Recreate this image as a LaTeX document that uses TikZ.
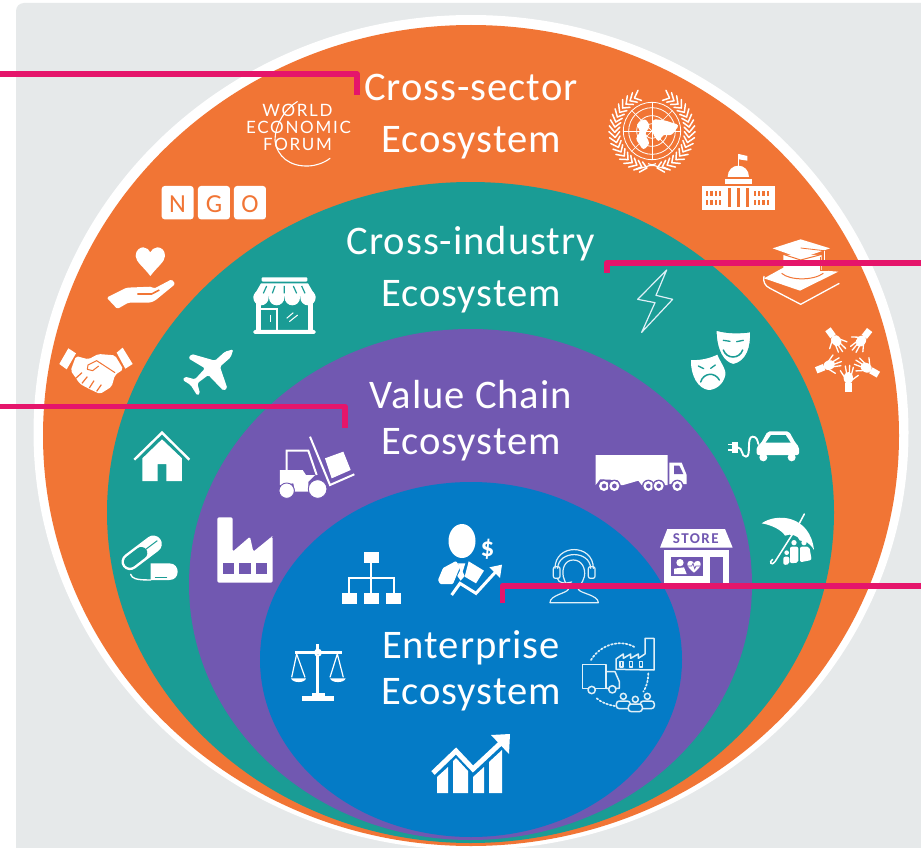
\documentclass[tikz,border=0pt]{standalone}
\usepackage{fontspec}
\setmainfont{Carlito}
\newfontfamily\lsfont[LetterSpace=2.4]{Carlito}
\newfontfamily\storefont[LetterSpace=10]{Carlito}
\newfontfamily\weffont[LetterSpace=10]{Lato}
\definecolor{panelc}{HTML}{E6E9EA}
\definecolor{orangec}{HTML}{F17535}
\definecolor{tealc}{HTML}{1A9C95}
\definecolor{purplec}{HTML}{7158B1}
\definecolor{bluec}{HTML}{047BC6}
\definecolor{leaderc}{HTML}{E5156B}
\definecolor{softw}{HTML}{E0F0F8}
\tikzset{
  zA/.style={x=0.33333pt,y=-0.33333pt},
  zB/.style={x=0.33333pt,y=-0.33333pt,xshift=460pt},
  zC/.style={x=0.33333pt,y=-0.33333pt,yshift=-420pt},
  zD/.style={x=0.33333pt,y=-0.33333pt,xshift=460pt,yshift=-420pt},
  title/.style={text=white,anchor=base,inner sep=0pt,font=\fontsize{40.6}{41}\lsfont},
  leader/.style={draw=leaderc,line width=5.6pt,line join=round},
  wline/.style={draw=white,line width=1.6pt,line join=round},
  thinw/.style={draw=white,line width=1.1pt,line join=round,line cap=round},
  softl/.style={draw=softw,line width=1.2pt,line join=round,line cap=round},
}
\begin{document}
\begin{tikzpicture}[x=1pt,y=-1pt]
\useasboundingbox (0,0) rectangle (921,848);
\fill[white] (0,0) rectangle (921,848);
\fill[panelc,rounded corners=8pt] (16,3) rectangle (940,870);
\clip (0,0) rectangle (921,848);
% rings
\fill[white] (471,432.5) ellipse [x radius=437.5,y radius=417.5];
\fill[orangec] (471,435.5) ellipse [x radius=428,y radius=410.5];
\fill[tealc] (470.5,512.5) ellipse [x radius=363.5,y radius=330.5];
\fill[purplec] (470.5,584.5) ellipse [x radius=281.5,y radius=255.5];
\fill[bluec] (471,659.5) ellipse [x radius=211,y radius=177.5];
% titles
\node[title] (t1a) at (471,101) {Cross-sector};
\node[title] (t1b) at (471,153) {Ecosystem};
\node[title] (t2a) at (471,254) {Cross-industry};
\node[title] (t2b) at (471,306) {Ecosystem};
\node[title] (t3a) at (471,408) {Value Chain};
\node[title] (t3b) at (471,454) {Ecosystem};
\node[title] (t4a) at (471,658) {Enterprise};
\node[title] (t4b) at (471,704) {Ecosystem};
% WEF
\node[text=white,inner sep=0pt,font=\fontsize{17}{17}\weffont] (wef1) at (297.5,110.5) {WORLD};
\node[text=white,inner sep=0pt,font=\fontsize{17}{17}\weffont] (wef2) at (298.5,127) {ECONOMIC};
\node[text=white,inner sep=0pt,font=\fontsize{17}{17}\weffont] (wef3) at (297.5,144) {FORUM};
\begin{scope}[zA]
\draw[thinw] (892,305) .. controls (850,330) and (825,380) .. (825,420) .. controls (830,470) and (870,500) .. (925,498) .. controls (950,497) and (975,487) .. (990,475);
% NGO tiles
\foreach \xa/\xb in {485/581,594/690,702/798}
  \fill[white,rounded corners=3pt] (\xa,558) rectangle (\xb,658);
% heart and hand
\fill[white] (451,828) .. controls (430,800) and (407,785) .. (407,768) .. controls (407,750) and (420,742) .. (430,742) .. controls (440,742) and (448,750) .. (451,757) .. controls (454,750) and (462,742) .. (472,742) .. controls (484,742) and (495,750) .. (495,768) .. controls (495,785) and (472,800) .. (451,828) -- cycle;
\fill[white,rounded corners=1.5pt] (320,893) -- (380,863) -- (455,860) -- (462,866) -- (515,838) -- (526,852) -- (465,902) -- (450,908) -- (385,908) -- (352,927) -- cycle;
\draw[orangec,line width=1.6pt] (412,882) -- (455,882) -- (478,870);
% handshake
\fill[white] (205,1045) -- (228,1060) -- (200,1108) -- (178,1092) -- cycle;
\fill[white] (368,1043) -- (398,1092) -- (376,1106) -- (350,1058) -- cycle;
\fill[white,rounded corners=2pt] (228,1068) -- (265,1078) -- (295,1062) -- (345,1066) -- (370,1108) -- (345,1125) -- (335,1160) -- (300,1182) -- (270,1168) -- (240,1152) -- (212,1112) -- cycle;
\draw[orangec,line width=1pt,line join=round] (345,1118) -- (290,1082) -- (264,1095) -- (262,1108) -- (278,1112) -- (296,1098);
\draw[orangec,line width=1.2pt] (226,1136) -- (246,1118) (246,1150) -- (262,1130) (268,1164) -- (282,1142) (290,1174) -- (304,1154);
% plane
\fill[white,rounded corners=1.5pt] (700,1048) -- (692,1072) -- (660,1100) -- (682,1165) -- (670,1172) -- (625,1125) -- (592,1150) -- (600,1180) -- (592,1187) -- (572,1155) -- (548,1140) -- (555,1130) -- (585,1138) -- (615,1105) -- (565,1075) -- (575,1062) -- (645,1082) -- (675,1055) -- cycle;
% shop
\fill[white,rounded corners=1pt] (785,832) rectangle (922,845);
\fill[white] (783,850) -- (924,850) -- (947,890) -- (760,890) -- cycle;
\foreach \c in {783,830,877,924} \fill[white] (\c,893) circle (23);
\draw[tealc,line width=1.2pt] (800,858) -- (790,880) (825,858) -- (817,880) (853,858) -- (853,880) (880,858) -- (890,880) (905,858) -- (915,880);
\fill[white] (768,905) rectangle (782,992);
\fill[white] (925,905) rectangle (938,992);
\fill[white,rounded corners=1.5pt] (760,990) rectangle (947,1002);
\fill[white] (782,924) rectangle (834,930);
\fill[white] (828,924) rectangle (834,992);
\draw[white,line width=1.3pt] (812,944) -- (812,966);
\draw[white,line width=1pt] (860,955) -- (880,938) (868,965) -- (893,945);
\end{scope}
\begin{scope}[zB]
% UN emblem
\begin{scope}[shift={(576,393)}]
\foreach \r in {22,46,70,86} \draw[white,line width=.8pt] (0,0) circle (\r);
\foreach \a in {0,45,...,315} \draw[white,line width=.7pt] (\a:0) -- (\a:86);
\fill[white,rounded corners=3pt] (-48,-20) -- (-20,-38) -- (-5,-14) -- (-22,8) -- (-6,38) -- (-26,58) -- (-50,22) -- (-34,2) -- cycle;
\fill[white,rounded corners=3pt] (2,-36) -- (38,-32) -- (82,-18) -- (58,14) -- (34,10) -- (20,34) -- (2,8) -- cycle;
\foreach \a in {98,106,...,248}{
  \draw[white,line width=1.5pt,line cap=round] (\a:112) -- ({\a+9}:129);
  \draw[white,line width=1.5pt,line cap=round] (\a:112) -- ({\a+9}:97);
}
\foreach \a in {82,74,...,-68}{
  \draw[white,line width=1.5pt,line cap=round] (\a:112) -- ({\a-9}:129);
  \draw[white,line width=1.5pt,line cap=round] (\a:112) -- ({\a-9}:97);
}
\draw[white,line width=1.1pt] (-48,116) -- (12,98) (48,116) -- (-12,98) (-10,104) -- (10,104);
\end{scope}
% capitol
\draw[white,line width=1.2pt] (835,462) -- (835,498);
\fill[white] (836,462) -- (862,468) -- (862,482) -- (836,478) -- cycle;
\fill[white] (803,531) .. controls (803,510) and (818,497) .. (835,497) .. controls (852,497) and (867,510) .. (867,531) -- cycle;
\fill[white] (795,537) rectangle (877,552);
\fill[white] (727,558) rectangle (945,630);
\foreach \yy in {572,600} {
  \foreach \xx in {738,751,764,777,881,894,907,920} \fill[orangec] (\xx,\yy) rectangle ++(7,16);
}
\foreach \xx in {804,831,858} \fill[orangec] (\xx,565) rectangle ++(9,55);
% graduation cap on book
\fill[white] (912,835) -- (970,803) -- (1135,815) -- (1020,872) -- cycle;
\draw[wline,line width=1.3pt] (912,828) .. controls (908,845) and (915,858) .. (930,865) -- (1022,913) -- (1138,850);
\fill[white] (970,765) -- (1085,765) -- (1085,812) .. controls (1060,838) and (995,838) .. (970,812) -- cycle;
\draw[orangec,line width=1pt] (965,820) .. controls (990,842) and (1060,842) .. (1090,820);
\draw[orangec,line width=1pt] (966,762) -- (1022,780) -- (1090,762);
\fill[white] (1022,718) -- (1110,745) -- (1022,775) -- (938,745) -- cycle;
\draw[orangec,line width=.8pt] (1022,744) -- (1092,752);
\draw[white,line width=1pt] (1092,752) -- (1092,795);
\draw[orangec,line width=.9pt] (1082,770) -- (1082,812) -- (1102,812) -- (1102,790);
% five hands
\begin{scope}[shift={(1165,1072)}]
\foreach \r in {0,60,142,216,292}{
 \begin{scope}[rotate=\r]
  \fill[white] (-10,104) rectangle (10,78);
  \fill[white] (0,62) ellipse [x radius=14,y radius=18];
  \draw[white,line width=1.3pt,line cap=round] (-11,60) -- (-24,40) (-5,50) -- (-9,26) (3,50) -- (4,24) (9,53) -- (15,30) (11,68) -- (30,54);
 \end{scope}
}
\end{scope}
% lightning
\draw[softl,line width=1.2pt,miter limit=5] (620,810) -- (533,898) -- (585,908) -- (545,997) -- (638,898) -- (588,886) -- cycle;
% masks
\fill[white] (693,1080) .. controls (720,1082) and (750,1075) .. (772,1064) .. controls (780,1085) and (800,1110) .. (796,1125) .. controls (790,1155) and (765,1170) .. (745,1170) .. controls (715,1165) and (692,1130) .. (693,1080) -- cycle;
\fill[white,draw=tealc,line width=1.2pt] (768,990) .. controls (800,1000) and (840,1000) .. (872,995) .. controls (874,1040) and (862,1085) .. (820,1094) .. controls (790,1088) and (768,1050) .. (768,990) -- cycle;
\draw[tealc,line width=1.3pt,line cap=round] (790,1021) -- (810,1024) (830,1025) -- (850,1021);
\draw[tealc,line width=1.5pt,line cap=round] (790,1050) .. controls (800,1078) and (838,1078) .. (848,1050);
\draw[tealc,line width=1.3pt,line cap=round] (715,1098) -- (731,1106) (752,1105) -- (766,1095);
\draw[tealc,line width=1.5pt,line cap=round] (722,1146) .. controls (730,1118) and (765,1115) .. (778,1140);
\end{scope}
\begin{scope}[zC]
% house
\draw[white,line width=2.4pt,line join=miter] (403,119) -- (486,38) -- (568,119);
\fill[white] (427,183) -- (427,115) -- (486,58) -- (546,115) -- (546,183) -- (499,183) -- (499,132) -- (473,132) -- (473,183) -- cycle;
% pills
\fill[white] (452,430) -- (508,430) .. controls (525,430) and (533,443) .. (533,455) .. controls (533,468) and (525,480) .. (508,480) -- (452,480) -- cycle;
\draw[white,line width=1.4pt,line cap=round] (392,463) .. controls (396,475) and (405,480) .. (452,480);
\draw[tealc,line width=1.1pt,line cap=round] (466,472) -- (500,472);
\draw[tealc,line width=20pt,line cap=round] (390,425) -- (460,372);
\draw[white,line width=17pt,line cap=round] (390,425) -- (460,372);
\draw[tealc,line width=12pt,line cap=round] (390,425) -- (424,399);
\draw[tealc,line width=1pt] (432,392) -- (472,362);
% forklift
\draw[white,line width=2pt,line join=miter] (860,150) -- (860,92) -- (925,92) -- (950,165);
\draw[white,line width=2pt] (930,50) -- (990,195) -- (1063,163);
\fill[white] (975,115) -- (1030,95) -- (1052,150) -- (995,175) -- cycle;
\fill[white] (840,150) -- (908,150) -- (918,165) -- (945,165) -- (925,185) -- (925,215) -- (885,215) -- (880,190) -- (840,195) -- cycle;
\fill[white,draw=purplec,line width=.9pt] (860,212) circle (23);
\fill[white,draw=purplec,line width=.9pt] (953,207) circle (28);
% factory
\fill[white,rounded corners=1.5pt] (652,300) -- (652,292) -- (698,292) -- (698,395) -- (750,350) -- (760,395) -- (815,350) -- (818,350) -- (818,488) -- (652,488) -- cycle;
\foreach \xx in {668,718,768} \fill[purplec] (\xx,428) rectangle ++(34,35);
% org chart
\fill[white] (1092,396) rectangle (1137,428);
\foreach \xx in {1026,1092,1158} \fill[white] (\xx,519) rectangle ++(45,33);
\draw[white,line width=2pt] (1114,428) -- (1114,519) (1048,519) -- (1048,475) -- (1182,475) -- (1182,519);
% balance
\draw[white,line width=3pt] (954,672) -- (954,825);
\fill[white] (954,698) circle (12);
\fill[bluec] (954,700) circle (4);
\draw[white,line width=2.4pt] (885,698) -- (1025,698);
\fill[white] (935,820) rectangle (975,830);
\fill[white] (905,828) rectangle (1003,842);
\draw[white,line width=1.2pt] (875,772) -- (890,702) -- (915,772) (990,772) -- (1012,702) -- (1030,772);
\fill[white] (873,775) -- (918,775) .. controls (915,790) and (878,790) .. (873,775) -- cycle;
\fill[white] (990,775) -- (1037,775) .. controls (1033,790) and (995,790) .. (990,775) -- cycle;
\end{scope}
% businessman
\fill[white] (462,541) ellipse [x radius=13.5,y radius=17];
\fill[white,rounded corners=1pt] (438,580) -- (443,568) -- (456,561) -- (460,567) -- (453,584) -- (440,584) -- cycle;
\begin{scope}[zD]
\fill[white] (-6,430) -- (16,430) -- (8,455) -- (14,468) -- (2,482) -- (-8,468) -- (0,452) -- cycle;
\fill[white] (26,424) -- (72,452) -- (48,490) -- (14,470) -- cycle;
\draw[white,line width=3pt,line join=miter] (-25,525) -- (0,490) -- (48,520) -- (112,450);
\fill[white] (88,442) -- (126,434) -- (120,474) -- cycle;
\end{scope}
\node[text=white,inner sep=0pt,font=\fontsize{27}{27}\bfseries] (dollar) at (487.5,549.5) {\$};
\begin{scope}[zD]
% headset person
\draw[softl] (340,420) .. controls (315,420) and (305,445) .. (310,470) .. controls (315,490) and (325,500) .. (325,508) .. controls (320,520) and (270,525) .. (270,548) -- (415,548) .. controls (415,525) and (360,520) .. (355,508) .. controls (355,500) and (368,490) .. (373,470) .. controls (378,445) and (365,420) .. (340,420) -- cycle;
\draw[softl] (285,445) .. controls (285,370) and (400,370) .. (400,445);
\draw[softl] (293,445) .. controls (295,390) and (390,390) .. (392,445);
\draw[softl,rounded corners=2pt] (280,440) rectangle (300,475);
\draw[softl,rounded corners=2pt] (385,440) rectangle (405,475);
\draw[softl] (292,475) .. controls (295,490) and (315,492) .. (335,486);
% truck
\fill[white] (407,105) -- (623,105) -- (623,195) -- (545,195) -- (535,182) -- (490,195) -- (482,195) -- (472,180) -- (420,178) -- (407,195) -- cycle;
\fill[white] (628,128) -- (665,128) -- (680,165) -- (680,192) -- (628,192) -- cycle;
\fill[purplec] (642,137) -- (658,137) -- (670,162) -- (642,162) -- cycle;
\foreach \xx in {432,463,565,596,652}{
  \fill[purplec] (\xx,198) circle (19);
  \fill[white] (\xx,198) circle (15);
  \fill[purplec] (\xx,198) circle (7);
}
% car and plug
\fill[white,rounded corners=2pt] (890,105) -- (890,80) -- (903,70) -- (923,34) -- (987,34) -- (1007,70) -- (1017,80) -- (1017,105) -- cycle;
\fill[tealc] (917,68) -- (933,45) -- (977,45) -- (992,68) -- cycle;
\fill[white] (910,112) circle (12);
\fill[white] (995,112) circle (12);
\fill[white] (815,66) rectangle (834,98);
\draw[white,line width=1.6pt] (804,73) -- (817,73) (804,90) -- (817,90);
\draw[white,line width=1.9pt,line cap=round] (832,82) .. controls (850,82) and (842,110) .. (858,110) .. controls (875,110) and (858,50) .. (878,50) .. controls (890,50) and (892,60) .. (895,72);
% umbrella
\fill[white] (905,310) .. controls (950,278) and (1050,285) .. (1062,390) .. controls (1050,370) and (1035,360) .. (1020,362) .. controls (1015,345) and (990,340) .. (975,347) .. controls (965,330) and (935,315) .. (905,310) -- cycle;
\draw[white,line width=1.5pt,line cap=round] (1033,282) -- (1018,310) -- (945,425) .. controls (935,440) and (925,425) .. (938,418);
\foreach \xx/\yy/\rr in {1002/368/8,1032/368/8,980/398/7}{
  \fill[white] (\xx,\yy) circle (\rr);
}
\fill[white,rounded corners=2pt] (990,380) -- (1015,380) -- (1015,428) -- (990,430) -- cycle;
\fill[white,rounded corners=2pt] (1020,380) -- (1048,380) -- (1055,420) -- (1020,427) -- cycle;
\fill[white,rounded corners=2pt] (970,410) -- (988,410) -- (988,433) -- (970,435) -- cycle;
% shop with STORE sign
\fill[white] (622,327) -- (795,327) -- (818,383) -- (600,383) -- cycle;
\fill[white] (612,390) rectangle (806,490);
\fill[purplec] (633,410) rectangle (728,468);
\fill[purplec] (750,410) rectangle (790,490);
\fill[white] (660,428) circle (11);
\fill[white] (642,462) -- (642,446) -- (672,442) -- (680,462) -- cycle;
\fill[white] (702,458) .. controls (690,448) and (682,440) .. (682,432) .. controls (682,420) and (698,420) .. (702,430) .. controls (706,420) and (722,420) .. (722,432) .. controls (722,440) and (714,448) .. (702,458) -- cycle;
\draw[purplec,line width=.7pt] (684,438) -- (695,438) -- (699,430) -- (704,446) -- (708,438) -- (720,438);
% logistics
\draw[softl,line width=1.5pt] (368,733) rectangle (438,805);
\draw[softl,line width=1.5pt] (438,755) -- (465,755) -- (478,785) -- (478,805) -- (438,805);
\draw[softl,line width=1.5pt,fill=bluec] (395,810) circle (11);
\draw[softl,line width=1.5pt,fill=bluec] (457,808) circle (11);
\draw[softl,line width=1.5pt] (468,748) -- (468,717) -- (490,702) -- (490,715) -- (512,702) -- (512,715) -- (535,702) -- (535,715) -- (555,702) -- (555,655) -- (582,655) -- (582,750) -- cycle;
\foreach \xx in {480,509,538} \draw[softl,line width=1.3pt] (\xx,725) rectangle ++(9,16);
\foreach \xx/\yy/\yb in {490/829/866,562/829/866,526/838/875}{
  \draw[softl,line width=1.5pt] (\xx,\yy) circle (9);
  \draw[softl,line width=1.5pt,fill=bluec,rounded corners=3pt] (\xx-21,\yb) -- (\xx-21,\yy+14) -- (\xx+21,\yy+14) -- (\xx+21,\yb) -- cycle;
}
\draw[softl,line width=1.7pt,dotted] (393,720) .. controls (420,675) and (480,655) .. (525,682);
\draw[softl,line width=1.7pt,dotted] (565,760) .. controls (565,780) and (560,800) .. (550,815);
\draw[softl,line width=1.7pt,dotted] (410,835) .. controls (425,848) and (445,855) .. (465,858);
\end{scope}
\node[text=purplec,inner sep=0pt,font=\fontsize{15}{15}\bfseries\storefont] (store) at (696.5,538.5) {\textbf{STORE}};
% NGO letters
\node[text=orangec,inner sep=0pt,font=\fontsize{26}{26}\selectfont] (ngoN) at (177.5,204) {N};
\node[text=orangec,inner sep=0pt,font=\fontsize{26}{26}\selectfont] (ngoG) at (214,204) {G};
\node[text=orangec,inner sep=0pt,font=\fontsize{26}{26}\selectfont] (ngoO) at (250,204) {O};
% growth chart
\fill[white] (437,777) -- (448,767) -- (448,793) -- (437,793) -- cycle;
\fill[white] (453,761) -- (456,758) -- (468,771) -- (468,793) -- (453,793) -- cycle;
\fill[white] (473,777) -- (484,767) -- (484,793) -- (473,793) -- cycle;
\fill[white] (489,762) -- (502,750) -- (502,793) -- (489,793) -- cycle;
\draw[white,line width=5pt,line join=miter] (433,773) -- (456,751) -- (473,769) -- (503,741);
\fill[white] (491,735) -- (510,734) -- (509,754) -- cycle;
% leaders
\coordinate (la0) at (0,74);
\coordinate (la1) at (357,95);
\coordinate (lb0) at (0,406.5);
\coordinate (lb1) at (344.7,428);
\coordinate (lc0) at (921,263);
\coordinate (lc1) at (606.7,273);
\coordinate (ld0) at (921,585.7);
\coordinate (ld1) at (502.3,603);
\draw[leader] (la0) -| (la1);
\draw[leader] (lb0) -| (lb1);
\draw[leader] (lc0) -| (lc1);
\draw[leader] (ld0) -| (ld1);
\end{tikzpicture}
\end{document}
